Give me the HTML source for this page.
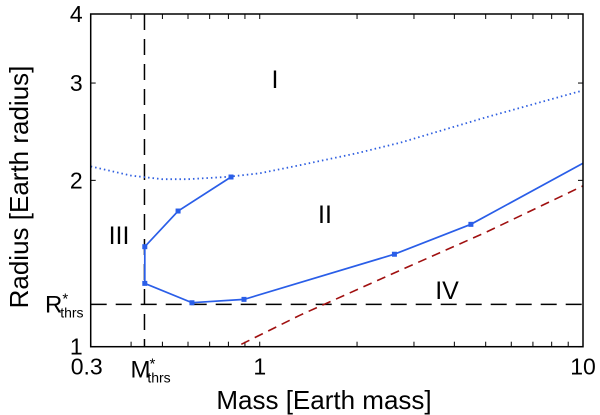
<!DOCTYPE html>
<html><head><meta charset="utf-8"><style>
body{margin:0;background:#fff}
svg{display:block;font-family:"Liberation Sans",sans-serif}
</style></head><body>
<svg id="c" width="600" height="415"></svg>
<script>
const massTicks=[0.3,1,10];
const radiusTicks=[1,2,3,4];
const solidMass=[0.815,0.559,0.441,0.441,0.617,0.894,2.61,4.5,10];
const solidRadius=[2.028,1.76,1.517,1.302,1.201,1.218,1.47,1.665,2.147];
const solidMarked=[1,1,1,1,1,1,1,1,0];
const dotMass=[0.3,0.4,0.5,0.6,0.8,1,1.33,2,2.72,5,10];
const dotRadius=[2.12,2.04,2.01,2.01,2.03,2.06,2.13,2.24,2.34,2.6,2.91];
const redMass=[0.877,1.33,2.72,5,10];
const redRadius=[1.01,1.14,1.375,1.61,1.954];
const mThrs=0.44, rThrs=1.193;

const L=90.7,R=583,T=14,B=346.7;
const X=m=>L+(R-L)*Math.log10(m/0.3)/Math.log10(10/0.3);
const Y=r=>B-(B-T)*Math.log10(r)/Math.log10(4);
const svg=document.getElementById('c');
const NS='http://www.w3.org/2000/svg';
function mk(t,a,p){const e=document.createElementNS(NS,t);for(const k in a)e.setAttribute(k,a[k]);(p||svg).appendChild(e);return e;}

const xt=[0.3,0.4,0.5,0.6,0.7,0.8,0.9,1,2,3,4,5,6,7,8,9,10];
xt.forEach(m=>{const x=X(m);
 let e=mk('line',{x1:x,x2:x,y1:B,y2:B-5,stroke:'#000','stroke-width':1});
 
 e=mk('line',{x1:x,x2:x,y1:T,y2:T+5,stroke:'#000','stroke-width':1});
 
});
radiusTicks.forEach(r=>{const y=Y(r);
 let e=mk('line',{x1:L,x2:L+5,y1:y,y2:y,stroke:'#000'});
 
 e=mk('line',{x1:R,x2:R-5,y1:y,y2:y,stroke:'#000'});
 
 const t=mk('text',{x:L-8,y:y+8,'text-anchor':'end','font-size':23});t.textContent=r;
 
});
massTicks.forEach(m=>{const t=mk('text',{x:X(m)+(m==0.3?-4:0),y:B+28,'text-anchor':'middle','font-size':23});t.textContent=m;
 });

let e=mk('line',{x1:X(mThrs),x2:X(mThrs),y1:T,y2:B,stroke:'#000','stroke-width':1.5,'stroke-dasharray':'16,9'});

e=mk('line',{x1:L,x2:R,y1:Y(rThrs),y2:Y(rThrs),stroke:'#000','stroke-width':1.5,'stroke-dasharray':'16,9'});


function pts(ms,rs){return ms.map((m,i)=>X(m).toFixed(1)+','+Y(rs[i]).toFixed(1)).join(' ');}
e=mk('polyline',{points:pts(dotMass,dotRadius),fill:'none',stroke:'#2f5fe0','stroke-width':1.8,'stroke-dasharray':'1.5,3'});

e=mk('polyline',{points:pts(redMass,redRadius),fill:'none',stroke:'#a01010','stroke-width':1.6,'stroke-dasharray':'9,6'});

e=mk('polyline',{points:pts(solidMass,solidRadius),fill:'none',stroke:'#2a5ee8','stroke-width':1.7});

solidMass.forEach((m,i)=>{if(!solidMarked[i])return;
 const p=mk('rect',{x:X(m)-2.5,y:Y(solidRadius[i])-2.5,width:5,height:5,fill:'#2a5ee8'});
 });

e=mk('rect',{x:L,y:T,width:R-L,height:B-T,fill:'none',stroke:'#000','stroke-width':1.5});


function txt(s,x,y,fs,name,anchor){const t=mk('text',{x:x,y:y,'font-size':fs,'text-anchor':anchor||'middle'});t.textContent=s;
 return t;}
txt('I',275,88,25,'region-i-label');
txt('II',325,223,25,'region-ii-label');
txt('III',119,244,25,'region-iii-label');
txt('IV',447,299,25,'region-iv-label');
txt('Mass [Earth mass]',324,409,26,'x-axis-title');
const yt=txt('Radius [Earth radius]',0,0,26,'y-axis-title');
yt.setAttribute('transform','translate(28,187) rotate(-90)');
let t=mk('text',{x:X(mThrs)-14,y:B+31,'font-size':24});

t.innerHTML='M<tspan font-size="15" dy="-9" dx="-1">*</tspan><tspan font-size="14" dy="14" dx="-8">thrs</tspan>';
t=mk('text',{x:45,y:Y(rThrs)+8,'font-size':24});

t.innerHTML='R<tspan font-size="15" dy="-9">*</tspan><tspan font-size="14" dy="14" dx="-8">thrs</tspan>';
</script>
</body></html>
